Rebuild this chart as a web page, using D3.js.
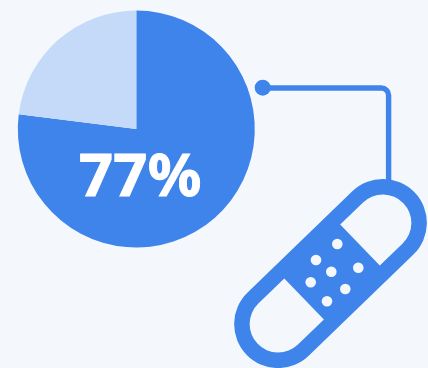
<!DOCTYPE html>
<html>
<head>
<meta charset="utf-8">
<script src="https://cdn.jsdelivr.net/npm/d3@7"></script>
<style>
  html, body { margin: 0; padding: 0; background: #f4f8fd; }
  svg { display: block; }
</style>
</head>
<body>
<script>
const segments = ["share", "rest"];
const values = [77, 23];
const label = "77%";
const blue = "#3f84eb";
const pale = "#c5daf9";

const svg = d3.select("body").append("svg").attr("width", 428).attr("height", 368);

// Pie, starting at twelve o'clock and running clockwise
const pie = d3.pie().sort(null)(values);
const arc = d3.arc().innerRadius(0).outerRadius(118.5);
const color = d3.scaleOrdinal().domain(d3.range(segments.length)).range([blue, pale]);

const pieGroup = svg.append("g").attr("transform", "translate(136.3,129)");
pieGroup.selectAll("path").data(pie).join("path")
  .attr("d", arc)
  .attr("fill", (d, i) => color(i));

pieGroup.append("text")
  .attr("x", -57.3)
  .attr("y", 66.7)
  .attr("font-family", "'Noto Sans', sans-serif")
  .attr("font-weight", 700)
  .attr("font-size", 59.5)
  .attr("letter-spacing", 0.3)
  .attr("fill", "#fff")
  .attr("stroke", "#fff")
  .attr("stroke-width", 0.9)
  .text(label);

// Connector from the pie to the bandage
const link = d3.path();
link.moveTo(262.7, 88);
link.lineTo(381, 88);
link.arcTo(388.6, 88, 388.6, 95, 7.3);
link.lineTo(388.6, 185);
svg.append("path").attr("d", link.toString())
  .attr("fill", "none").attr("stroke", blue).attr("stroke-width", 5.4);
svg.append("circle").attr("cx", 262.7).attr("cy", 87.7).attr("r", 8).attr("fill", blue);

// Bandage: a capsule with two windows at its ends and a perforated pad
const halfLen = 72.8, outerR = 44, innerR = 28.5, padLeft = -36.7, padRight = 41;
const capsule = d3.path();
capsule.moveTo(-halfLen, -outerR);
capsule.lineTo(halfLen, -outerR);
capsule.arc(halfLen, 0, outerR, -Math.PI / 2, Math.PI / 2);
capsule.lineTo(-halfLen, outerR);
capsule.arc(-halfLen, 0, outerR, Math.PI / 2, 3 * Math.PI / 2);
capsule.closePath();
capsule.moveTo(padRight, -innerR);
capsule.lineTo(halfLen, -innerR);
capsule.arc(halfLen, 0, innerR, -Math.PI / 2, Math.PI / 2);
capsule.lineTo(padRight, innerR);
capsule.closePath();
capsule.moveTo(padLeft, -innerR);
capsule.lineTo(-halfLen, -innerR);
capsule.arc(-halfLen, 0, innerR, -Math.PI / 2, Math.PI / 2, true);
capsule.lineTo(padLeft, innerR);
capsule.closePath();

svg.append("path")
  .attr("transform", "translate(330.5,273.5) rotate(-44)")
  .attr("d", capsule.toString())
  .attr("fill", blue)
  .attr("fill-rule", "evenodd");

const holes = [[337.3, 244], [316, 260], [331.3, 271.7], [358.3, 267.7], [310.7, 282.3], [345.3, 289], [327, 301.3]];
svg.append("g").selectAll("circle").data(holes).join("circle")
  .attr("cx", d => d[0]).attr("cy", d => d[1]).attr("r", 5.3)
  .attr("fill", "#f4f8fd");
</script>
</body>
</html>
